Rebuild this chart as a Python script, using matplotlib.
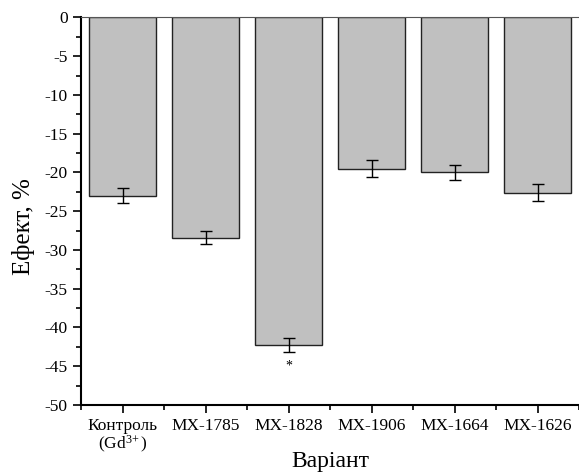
import matplotlib.pyplot as plt
from matplotlib.ticker import MultipleLocator

plt.rcParams['font.family'] = ['Liberation Serif', 'DejaVu Serif']
plt.rcParams['mathtext.fontset'] = 'custom'
plt.rcParams['mathtext.rm'] = 'Liberation Serif'
plt.rcParams['mathtext.it'] = 'Liberation Serif:italic'
plt.rcParams['axes.unicode_minus'] = False

categories = ["Контроль\n(Gd$^{3\!+}$)", "MX-1785", "MX-1828", "MX-1906", "MX-1664", "MX-1626"]
effect = [-23.0, -28.4, -42.3, -19.5, -20.0, -22.6]
errors = [1.0, 0.8, 0.9, 1.1, 1.0, 1.1]
marks = ["", "", "*", "", "", ""]

fig = plt.figure(figsize=(5.79, 4.72), dpi=100)
ax = fig.add_axes([0.14, 0.142, 0.86, 0.821])

x = list(range(len(categories)))
ax.bar(x, effect, width=0.8, color='#c0c0c0', edgecolor='#222222', linewidth=1.0,
       yerr=errors, error_kw=dict(ecolor='black', elinewidth=1.0, capsize=4, capthick=1.0))

for xi, v, e, m in zip(x, effect, errors, marks):
    if m:
        ax.text(xi, v - e - 1.0, m, ha='center', va='top', fontsize=10)

ax.set_xlim(-0.5, 5.5)
ax.set_ylim(-50, 0)
ax.set_xticks(x)
ax.set_xticklabels(categories, fontsize=12.5, linespacing=1.0)
ax.xaxis.set_minor_locator(MultipleLocator(1, offset=0.5))
ax.yaxis.set_major_locator(MultipleLocator(5))
ax.yaxis.set_minor_locator(MultipleLocator(2.5))
ax.tick_params(axis='both', which='major', direction='out', length=6, width=1.2, labelsize=12.5)
ax.tick_params(axis='both', which='minor', direction='out', length=3.5, width=1.2)

ax.spines['right'].set_visible(False)
ax.spines['top'].set_color('#555555')
ax.spines['left'].set_linewidth(1.5)
ax.spines['bottom'].set_linewidth(1.5)

ax.set_xlabel("Варіант", fontsize=17)
ax.set_ylabel("Ефект, %", fontsize=18)
ax.xaxis.set_label_coords(0.5, -0.12)
ax.yaxis.set_label_coords(-0.092, 0.46)

fig.savefig("out.png", dpi=100)
